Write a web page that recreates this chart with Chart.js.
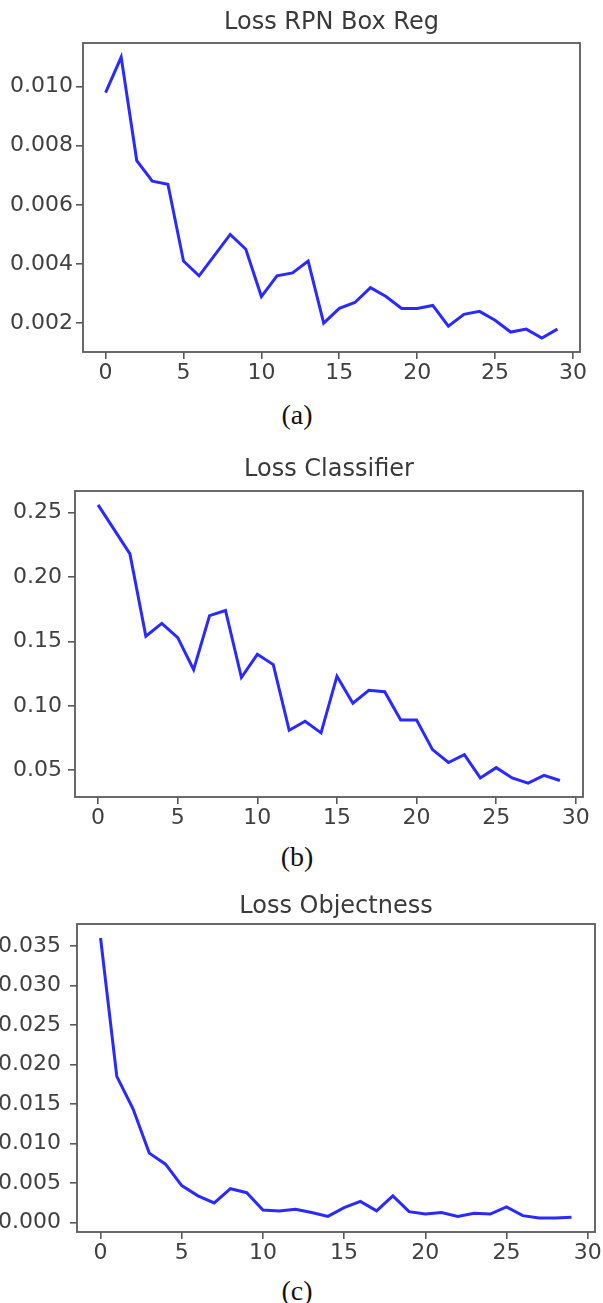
<!DOCTYPE html>
<html>
<head>
<meta charset="utf-8">
<script src="https://cdn.jsdelivr.net/npm/chart.js@4.4.1/dist/chart.umd.min.js"></script>
<style>
  body { margin: 0; background: #fff; width: 603px; height: 1303px; position: relative; overflow: hidden; }
  .panel { position: absolute; left: 0; width: 603px; }
  .caption { position: absolute; left: 0; width: 594px; text-align: center; font-family: "Liberation Serif", "Times New Roman", serif; font-size: 28px; line-height: 30px; color: #111; }
</style>
</head>
<body>
<div class="panel" style="top:0;height:392px"><canvas id="chartA"></canvas></div>
<div class="caption" style="top:400px">(a)</div>
<div class="panel" style="top:440px;height:397px"><canvas id="chartB"></canvas></div>
<div class="caption" style="top:842px">(b)</div>
<div class="panel" style="top:880px;height:392px"><canvas id="chartC"></canvas></div>
<div class="caption" style="top:1276px">(c)</div>
<script>
const epochs = [0, 1, 2, 3, 4, 5, 6, 7, 8, 9, 10, 11, 12, 13, 14, 15, 16, 17, 18, 19, 20, 21, 22, 23, 24, 25, 26, 27, 28, 29];
const xTicks = [0, 5, 10, 15, 20, 25, 30];

const boxRegLoss = [0.0098, 0.0110, 0.0075, 0.0068, 0.0067, 0.0041, 0.0036, 0.0043, 0.0050, 0.0045,
  0.0029, 0.0036, 0.0037, 0.0041, 0.0020, 0.0025, 0.0027, 0.0032, 0.0029, 0.0025,
  0.0025, 0.0026, 0.0019, 0.0023, 0.0024, 0.0021, 0.0017, 0.0018, 0.0015, 0.0018];
const boxRegTicks = [0.002, 0.004, 0.006, 0.008, 0.010];
const boxRegLabels = ["0.002", "0.004", "0.006", "0.008", "0.010"];

const classifierLoss = [0.256, 0.237, 0.218, 0.154, 0.164, 0.153, 0.128, 0.170, 0.174, 0.122,
  0.140, 0.132, 0.081, 0.088, 0.079, 0.123, 0.102, 0.112, 0.111, 0.089,
  0.089, 0.066, 0.056, 0.062, 0.044, 0.052, 0.044, 0.040, 0.046, 0.042];
const classifierTicks = [0.05, 0.10, 0.15, 0.20, 0.25];
const classifierLabels = ["0.05", "0.10", "0.15", "0.20", "0.25"];

const objectnessLoss = [0.0360, 0.0185, 0.0144, 0.0088, 0.0074, 0.0047, 0.0034, 0.0025, 0.0043, 0.0038,
  0.0016, 0.0015, 0.0017, 0.0013, 0.0008, 0.0019, 0.0027, 0.0015, 0.0034, 0.0014,
  0.0011, 0.0013, 0.0008, 0.0012, 0.0011, 0.0020, 0.0009, 0.0006, 0.0006, 0.0007];
const objectnessTicks = [0.000, 0.005, 0.010, 0.015, 0.020, 0.025, 0.030, 0.035];
const objectnessLabels = ["0.000", "0.005", "0.010", "0.015", "0.020", "0.025", "0.030", "0.035"];

const TEXT = "#404040";
const FRAME = "#5a5a5a";

// matplotlib style 5% margins around the data
function padRange(vals) {
  const lo = Math.min(...vals), hi = Math.max(...vals);
  const m = (hi - lo) * 0.05;
  return [lo - m, hi + m];
}

const frameBox = {
  id: "frameBox",
  afterDraw(chart) {
    const a = chart.chartArea, c = chart.ctx;
    c.save();
    c.strokeStyle = FRAME;
    c.lineWidth = 1.8;
    c.strokeRect(a.left, a.top, a.right - a.left, a.bottom - a.top);
    c.restore();
  }
};

function makeChart(id, title, values, yTicks, yLabels, o) {
  const [ymin, ymax] = padRange(values);
  const [xmin, xmax] = padRange(epochs);
  return new Chart(document.getElementById(id), {
    type: "line",
    data: {
      datasets: [{
        data: epochs.map((e, i) => ({ x: e, y: values[i] })),
        borderColor: "#2a2aff",
        borderWidth: 3,
        pointRadius: 0,
        tension: 0,
        fill: false
      }]
    },
    options: {
      responsive: true,
      maintainAspectRatio: false,
      animation: false,
      layout: { padding: { left: 0, right: o.padRight, top: 0, bottom: 0 } },
      plugins: {
        legend: { display: false },
        tooltip: { enabled: false },
        title: {
          display: true,
          text: title,
          fullSize: false,
          color: "#3a3a3a",
          font: { family: "DejaVu Sans", size: 24, weight: "normal", lineHeight: 1.2 },
          padding: { top: o.titleTop, bottom: o.titleBottom }
        }
      },
      scales: {
        x: {
          type: "linear",
          min: xmin,
          max: xmax,
          afterBuildTicks: axis => { axis.ticks = xTicks.map(v => ({ value: v })); },
          afterFit: axis => { axis.height = 40; },
          grid: { drawOnChartArea: false, drawTicks: true, tickLength: 7, color: FRAME, lineWidth: 1.6 },
          border: { display: false },
          ticks: {
            autoSkip: false, maxRotation: 0, padding: 1, color: TEXT,
            font: { family: "DejaVu Sans", size: 22 },
            callback: v => String(v)
          }
        },
        y: {
          type: "linear",
          min: ymin,
          max: ymax,
          afterBuildTicks: axis => { axis.ticks = yTicks.map(v => ({ value: v })); },
          afterFit: axis => { axis.width = o.axisWidth; },
          grid: { drawOnChartArea: false, drawTicks: true, tickLength: 7, color: FRAME, lineWidth: 1.6 },
          border: { display: false },
          ticks: {
            autoSkip: false, padding: o.tickPad, color: TEXT,
            font: { family: "DejaVu Sans", size: 22 },
            callback: (v, i) => yLabels[i]
          }
        }
      }
    },
    plugins: [frameBox]
  });
}

makeChart("chartA", "Loss RPN Box Reg", boxRegLoss, boxRegTicks, boxRegLabels,
  { axisWidth: 83, padRight: 23, titleTop: 8.6, titleBottom: 5.6, tickPad: 3 });
makeChart("chartB", "Loss Classifier", classifierLoss, classifierTicks, classifierLabels,
  { axisWidth: 75, padRight: 20, titleTop: 15.6, titleBottom: 6.6, tickPad: 6 });
makeChart("chartC", "Loss Objectness", objectnessLoss, objectnessTicks, objectnessLabels,
  { axisWidth: 77, padRight: 8, titleTop: 12.1, titleBottom: 3.1, tickPad: 9 });
</script>
</body>
</html>
